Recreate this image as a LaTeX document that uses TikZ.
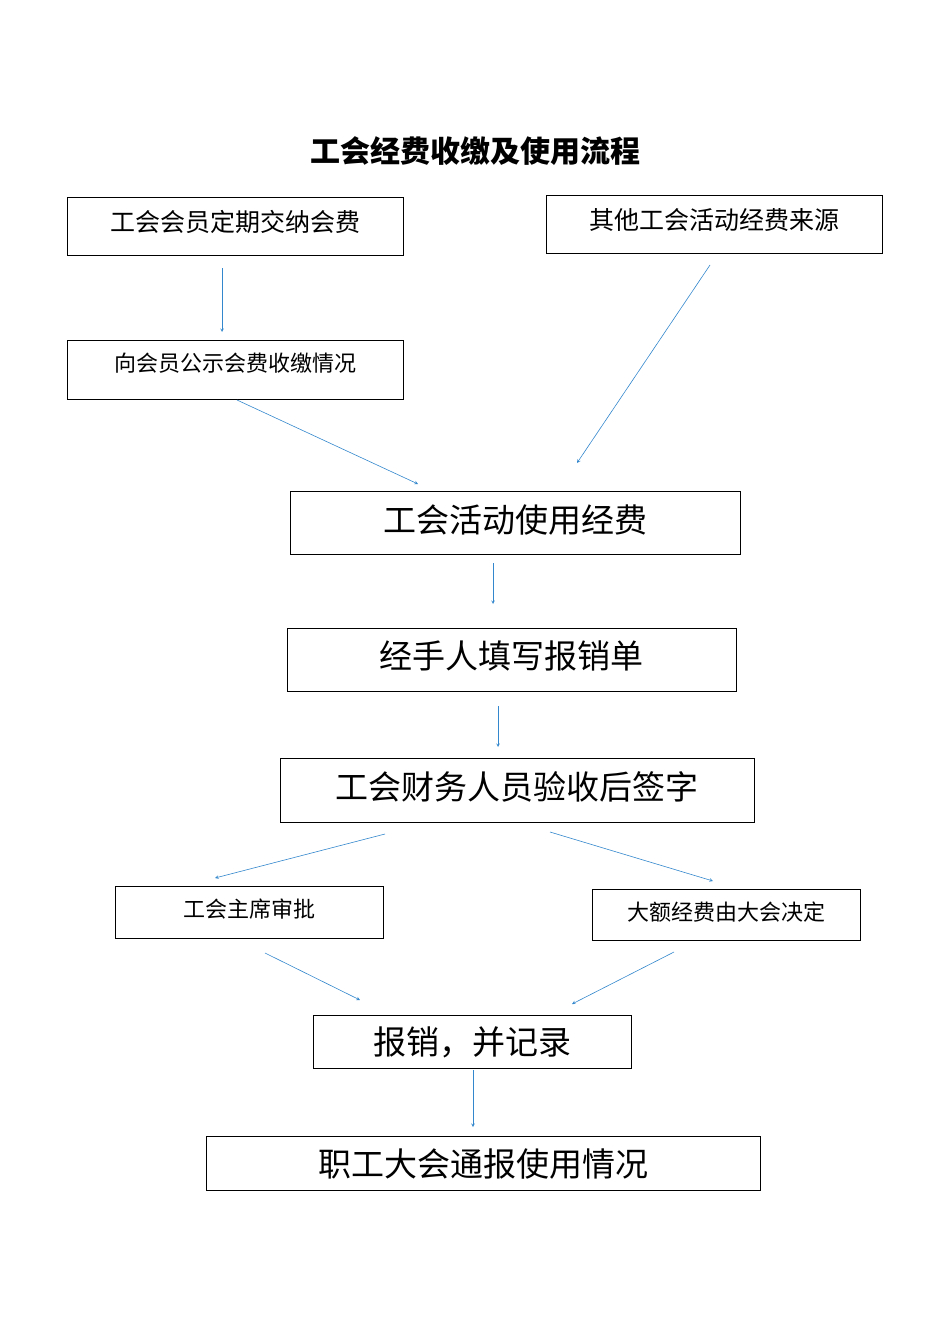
\documentclass[tikz,border=0pt]{standalone}
\usepackage{fontspec}
\newfontfamily\cjk{Noto Sans CJK SC}
\begin{document}
\begin{tikzpicture}[x=1pt,y=-1pt,
  bx/.style={draw,line width=0.7pt,inner sep=0pt},
  arr/.style={draw=blue!45!cyan!60!gray,line width=0.6pt,-stealth},
  fa/.style={font=\cjk\fontsize{25}{25}\selectfont},
  fb/.style={font=\cjk\fontsize{22}{22}\selectfont},
  fc/.style={font=\cjk\fontsize{33}{33}\selectfont}]
\useasboundingbox (0,0) rectangle (950,1344);
\node[font=\cjk\bfseries\fontsize{30}{30}\selectfont] (t) at (475,151) {工会经费收缴及使用流程};
\draw[bx] (67,197) rectangle (403,255); \node[fa] (n1) at (235,222) {工会会员定期交纳会费};
\draw[bx] (546,195) rectangle (882,253); \node[fa] (n2) at (714,220) {其他工会活动经费来源};
\draw[bx] (67,340) rectangle (403,399); \node[fb] (n3) at (235,363) {向会员公示会费收缴情况};
\draw[bx] (290,491) rectangle (740,554); \node[fc] (n4) at (515,520) {工会活动使用经费};
\draw[bx] (287,628) rectangle (736,691); \node[fc] (n5) at (511,656) {经手人填写报销单};
\draw[bx] (280,758) rectangle (754,822); \node[fc] (n6) at (517,787) {工会财务人员验收后签字};
\draw[bx] (115,886) rectangle (383,938); \node[fb] (n7) at (249,909) {工会主席审批};
\draw[bx] (592,889) rectangle (860,940); \node[fb] (n8) at (726,912) {大额经费由大会决定};
\draw[bx] (313,1015) rectangle (631,1068); \node[fc] (n9) at (472,1042) {报销，并记录};
\draw[bx] (206,1136) rectangle (760,1190); \node[fc] (n10) at (483,1164) {职工大会通报使用情况};
\foreach \n/\a/\b in {a/{222,268}/{222,332}, b/{710,265}/{577,463}, c/{237,400}/{418,484}, d/{493,563}/{493,604}, e/{498,706}/{498,747}, f/{385,834}/{215,878}, g/{550,832}/{713,881}, h/{265,953}/{360,1000}, i/{674,952}/{572,1004}, j/{473,1070}/{473,1127}}{
  \coordinate (\n s) at (\a); \coordinate (\n e) at (\b);
  \draw[arr] (\n s) -- (\n e);}
\end{tikzpicture}
\end{document}
